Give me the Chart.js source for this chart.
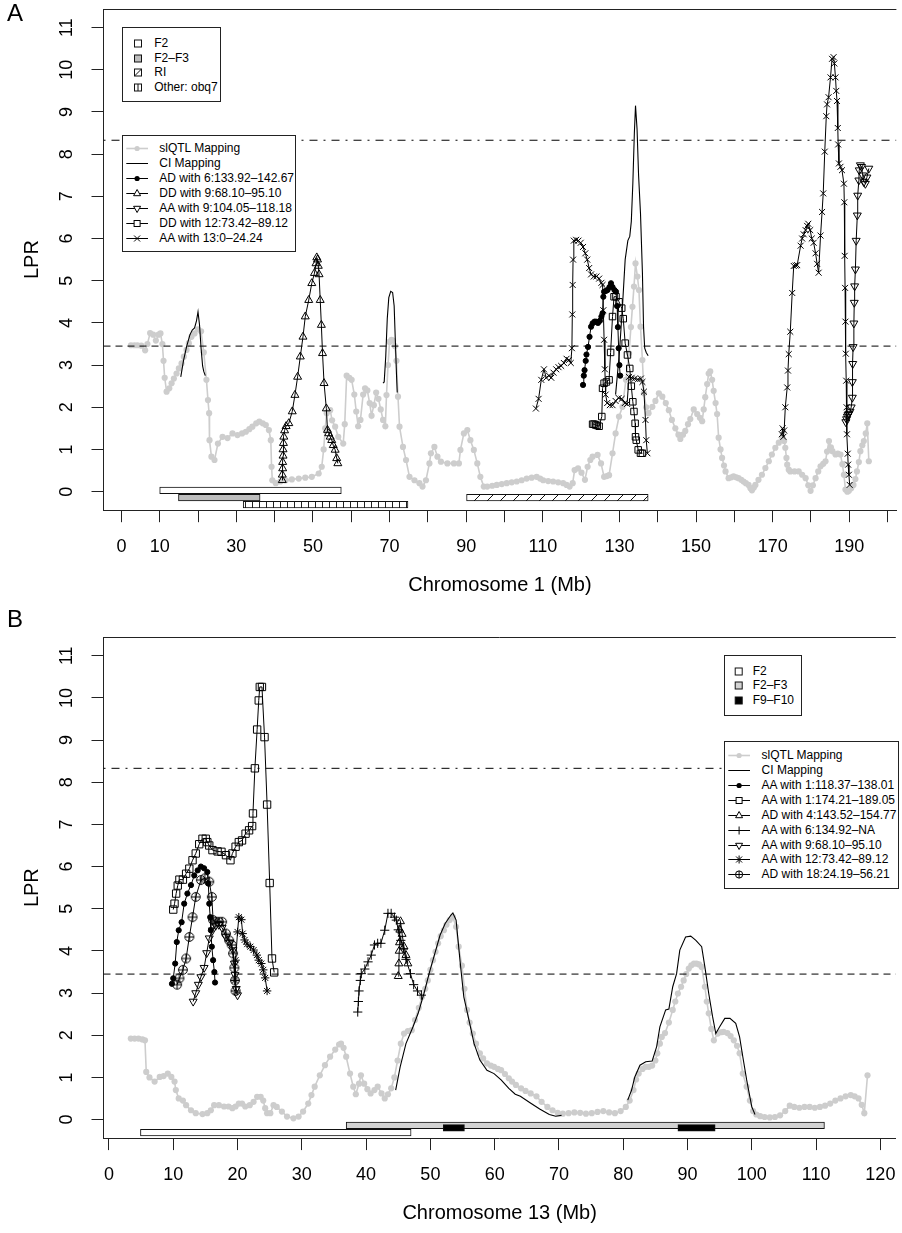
<!DOCTYPE html>
<html><head><meta charset="utf-8">
<script src="https://cdn.jsdelivr.net/npm/chart.js@4.4.1/dist/chart.umd.min.js"></script>
<style>
html,body{margin:0;padding:0;background:#fff;width:902px;height:1233px;overflow:hidden;font-family:"Liberation Sans",Arial,Helvetica,sans-serif;}
#wrap{position:relative;width:902px;height:1233px;}
canvas{position:absolute;left:0;}
.lg{position:absolute;background:#fff;border:1px solid #222;box-sizing:border-box;}
.row{position:absolute;left:0;right:0;height:15px;font-size:12px;line-height:15px;white-space:nowrap;color:#000;}
.row svg{position:absolute;left:0;top:0;}
.row span{position:absolute;top:0;}
.panel{position:absolute;font-size:24px;line-height:24px;color:#000;}
</style></head><body>
<div id="wrap">
<canvas id="cA" width="902" height="600" style="top:0"></canvas>
<canvas id="cB" width="902" height="633" style="top:600px"></canvas>
<div class="panel" style="left:7px;top:1px">A</div>
<div class="panel" style="left:7px;top:607px">B</div>
<div id="legends"></div>
</div>
<script>
// ---------------- DATA ----------------
const yTicks = [0,1,2,3,4,5,6,7,8,9,10,11];
const LPR_threshold_low = 3.45;
const LPR_threshold_high = 8.33;

// Panel A : Chromosome 1
const chr1_xTicks = [0,10,20,30,40,50,60,70,80,90,100,110,120,130,140,150,160,170,180,190,200];
const chr1_xLabels = [0,10,30,50,70,90,110,130,150,170,190];
const chr1_slQTL = [[2.5,3.47],[3.4,3.47],[4.2,3.47],[5.2,3.46],[6.2,3.35],[6.8,3.5],[7.5,3.76],[8.3,3.72],[9.0,3.58],[9.7,3.72],[10.2,3.75],[10.7,3.5],[11.0,3.1],[11.3,2.7],[11.8,2.37],[12.5,2.45],[13.1,2.57],[13.7,2.68],[14.4,2.8],[15.0,2.92],[15.7,3.04],[16.3,3.2],[17.0,3.36],[17.6,3.52],[18.3,3.67],[19.1,3.75],[20.0,3.85],[20.8,3.8],[21.5,3.3],[22.2,2.65],[22.6,2.17],[22.9,1.86],[23.0,1.22],[23.5,0.83],[24.3,0.75],[25.2,1.14],[26.4,1.3],[27.7,1.27],[29.0,1.38],[30.3,1.34],[31.5,1.38],[32.5,1.42],[33.4,1.48],[34.2,1.54],[35.2,1.62],[36.0,1.66],[36.9,1.62],[37.7,1.58],[38.5,1.46],[39.0,1.22],[39.2,0.59],[39.4,0.27],[40.3,0.2],[41.5,0.24],[42.9,0.27],[44.5,0.29],[46.3,0.31],[48.0,0.33],[49.7,0.35],[51.5,0.43],[52.3,0.59],[52.8,1.0],[53.2,1.5],[53.6,1.86],[54.5,1.93],[55.0,1.69],[55.8,1.54],[56.6,1.3],[57.9,1.14],[58.3,1.6],[58.8,2.75],[59.5,2.7],[60.1,2.65],[60.8,2.3],[61.3,1.9],[61.8,1.55],[62.4,1.7],[63.1,2.3],[63.6,2.45],[64.2,2.4],[64.8,2.1],[65.3,1.8],[65.9,2.05],[66.5,2.35],[67.1,2.2],[67.7,1.95],[68.3,1.7],[68.9,1.55],[69.2,2.29],[69.6,3.0],[70.0,3.55],[70.5,3.6],[70.9,3.58],[71.4,3.45],[71.8,3.1],[72.2,2.25],[72.6,1.54],[73.5,1.06],[74.3,0.75],[75.2,0.35],[76.5,0.27],[77.8,0.2],[78.6,0.12],[79.5,0.27],[80.4,0.67],[80.8,0.91],[81.7,1.06],[82.5,0.83],[83.4,0.71],[85.1,0.67],[86.8,0.67],[88.1,0.67],[88.5,0.99],[89.4,1.38],[90.3,1.46],[91.1,1.22],[92.0,0.99],[92.9,0.67],[93.7,0.35],[94.6,0.12],[95.5,0.12],[96.8,0.14],[98.0,0.16],[99.3,0.18],[100.6,0.2],[101.9,0.22],[103.2,0.24],[104.5,0.27],[105.8,0.31],[107.1,0.33],[108.4,0.35],[109.3,0.31],[110.1,0.27],[111.4,0.25],[112.7,0.24],[114.0,0.22],[115.3,0.2],[116.2,0.16],[117.0,0.12],[117.8,0.2],[118.3,0.51],[119.2,0.55],[120.1,0.45],[121.0,0.28],[121.7,0.59],[122.4,0.75],[123.0,0.83],[124.3,0.87],[125.2,0.67],[126.0,0.35],[126.7,0.37],[127.3,0.39],[128.2,0.91],[129.0,1.38],[129.9,1.78],[130.8,2.01],[131.7,2.65],[132.5,3.28],[133.0,3.9],[133.4,4.38],[133.8,4.86],[134.2,5.41],[134.7,5.1],[135.1,4.78],[135.5,3.91],[136.0,3.12],[136.4,2.33],[137.0,2.0],[137.6,1.86],[138.6,2.01],[139.4,2.15],[140.3,2.33],[141.2,2.25],[142.1,2.1],[142.9,1.93],[143.7,1.7],[144.6,1.5],[145.4,1.35],[145.9,1.25],[146.6,1.35],[147.2,1.44],[147.9,1.6],[148.5,1.72],[149.4,1.95],[150.3,1.84],[151.0,1.75],[151.6,1.67],[152.0,1.95],[152.4,2.24],[152.9,2.55],[153.3,2.8],[153.7,2.85],[154.2,2.65],[154.6,2.39],[155.1,2.1],[155.5,1.84],[155.9,1.28],[156.4,1.0],[156.8,0.8],[157.3,0.62],[157.7,0.48],[158.5,0.32],[159.2,0.34],[159.8,0.36],[160.5,0.34],[161.1,0.32],[161.8,0.28],[162.4,0.24],[163.0,0.2],[163.7,0.16],[164.2,0.08],[164.6,0.03],[165.1,0.1],[165.5,0.16],[166.3,0.28],[167.2,0.4],[168.1,0.56],[169.0,0.72],[169.8,0.88],[170.7,1.04],[171.6,1.16],[172.5,1.28],[173.0,1.2],[173.3,1.04],[173.6,0.8],[173.8,0.64],[174.2,0.52],[174.6,0.48],[175.7,0.48],[176.8,0.48],[177.7,0.4],[178.6,0.32],[179.3,0.15],[179.9,0.02],[180.5,0.15],[181.2,0.32],[181.9,0.48],[182.5,0.6],[183.2,0.66],[183.8,0.72],[184.2,0.95],[184.7,1.2],[185.2,1.05],[185.6,0.96],[186.4,0.88],[187.0,0.9],[187.7,0.88],[188.2,0.65],[188.6,0.4],[189.0,0.05],[189.5,0.0],[189.9,0.02],[190.5,0.08],[191.1,0.16],[191.6,0.3],[192.0,0.48],[192.5,0.7],[192.9,0.96],[193.4,1.1],[193.8,1.2],[194.3,1.38],[194.7,1.62],[195.1,0.72]];
const chr1_CI_a = [[15.5,2.72],[16.2,3.1],[17.0,3.43],[17.9,3.72],[18.5,3.83],[19.1,3.88],[19.6,4.05],[20.0,4.26],[20.4,3.95],[20.8,3.4],[21.2,2.98],[21.5,2.85],[21.9,2.75]];
const chr1_CI_b = [[68.3,2.57],[68.6,2.6],[69.0,3.2],[69.4,4.1],[69.8,4.6],[70.3,4.75],[70.8,4.72],[71.2,4.4],[71.5,3.6],[71.8,2.8],[72.0,2.35]];
const chr1_CI_c = [[129.0,2.3],[130.0,3.3],[130.8,4.4],[131.5,5.5],[132.2,5.95],[132.7,6.05],[133.1,6.4],[133.5,7.3],[133.9,8.5],[134.2,9.15],[134.6,8.6],[135.0,7.5],[135.5,6.6],[136.0,5.2],[136.3,3.9],[136.6,3.4],[137.0,3.3],[137.5,3.22]];
const chr1_AD_6 = [[120.5,2.53],[120.7,2.75],[120.9,2.88],[121.2,3.1],[121.4,3.25],[121.8,3.43],[122.2,3.67],[122.6,3.91],[123.0,3.99],[123.5,4.03],[123.9,4.03],[124.4,4.0],[124.9,4.05],[125.3,4.15],[125.6,4.23],[125.8,4.62],[126.0,4.74],[126.5,4.76],[126.9,4.78],[127.4,4.85],[127.8,4.94],[128.2,4.85],[128.7,4.78],[129.1,4.74],[129.4,4.4],[129.6,3.9],[129.8,3.4],[130.0,3.0],[130.2,2.75]];
const chr1_DD_9 = [[42.0,0.27],[42.0,0.4],[42.1,0.55],[42.1,0.7],[42.2,0.85],[42.2,1.0],[42.3,1.15],[42.4,1.3],[42.6,1.45],[43.0,1.55],[43.7,1.62],[44.6,1.9],[45.3,2.29],[46.0,2.72],[46.7,3.2],[47.4,3.67],[48.0,4.15],[48.9,4.54],[49.7,4.94],[50.4,5.18],[50.8,5.41],[51.0,5.55],[51.2,5.5],[51.4,5.35],[51.6,5.15],[51.9,4.54],[52.2,3.95],[52.5,3.28],[52.9,2.57],[53.5,1.97],[53.8,1.46],[54.1,1.38],[54.5,1.3],[54.9,1.22],[55.3,1.1],[55.8,0.99],[56.2,0.79],[56.5,0.67]];
const chr1_AA_9 = [[189.1,1.65],[189.3,1.72],[189.5,1.78],[189.7,1.82],[189.9,1.85],[190.2,1.9],[190.5,2.0],[190.8,2.23],[190.8,2.6],[190.9,3.03],[191.0,3.43],[191.2,3.99],[191.3,4.48],[191.4,4.87],[191.6,5.27],[191.8,5.95],[192.1,6.55],[192.2,7.02],[192.5,7.38],[192.6,7.62],[192.9,7.74],[193.2,7.7],[193.5,7.5],[193.8,7.34],[194.2,7.3],[194.6,7.45],[195.1,7.66]];
const chr1_DD_12 = [[123.0,1.6],[123.4,1.6],[123.8,1.58],[124.2,1.57],[124.7,1.55],[125.4,1.78],[125.6,2.45],[126.0,2.57],[126.6,2.6],[127.3,2.65],[127.7,3.3],[128.2,4.15],[128.6,4.62],[129.1,4.62],[129.9,4.5],[130.6,4.35],[131.0,4.1],[131.5,3.52],[132.1,3.24],[132.7,2.92],[133.1,2.5],[133.5,2.13],[133.8,1.9],[134.1,1.62],[134.2,1.3],[134.4,1.22],[134.9,0.99],[135.5,0.91],[136.0,0.91]];
const chr1_AA_13_a = [[108.2,1.97],[108.9,2.2],[109.6,2.65],[110.3,2.9],[110.9,2.7],[111.6,2.75],[112.2,2.7],[112.8,2.82],[113.5,2.9],[114.1,2.95],[114.8,2.98],[115.5,3.05],[116.2,3.15],[116.8,3.12],[117.3,3.05],[117.6,3.4],[117.7,4.2],[117.8,4.9],[117.9,5.5],[118.1,5.95],[118.7,5.97],[119.3,5.95],[119.9,5.9],[120.5,5.8],[121.1,5.65],[121.6,5.5],[122.1,5.3],[122.6,5.15],[123.3,5.1],[124.0,5.1],[124.7,5.05],[125.3,4.95],[125.6,4.9],[125.8,4.3],[126.0,3.6],[126.2,2.9],[126.4,2.3],[126.8,2.1],[127.5,2.05],[128.2,2.05],[129.0,2.15],[129.8,2.22],[130.6,2.2],[131.4,2.1],[132.0,2.08],[132.5,2.72],[133.2,2.7],[134.0,2.68],[134.8,2.66],[135.6,2.68],[136.0,2.6],[136.4,2.37],[136.8,1.7],[137.0,1.22],[137.3,0.91]];
const chr1_AA_13_b = [[172.4,1.36],[172.6,1.5],[172.8,1.3],[173.0,1.45],[173.3,2.0],[173.8,2.47],[174.0,2.87],[174.2,3.26],[174.6,3.79],[175.1,4.71],[175.5,5.35],[176.0,5.36],[176.4,5.37],[177.3,5.83],[177.7,6.0],[178.1,6.1],[178.6,6.2],[179.0,6.3],[179.3,6.35],[179.8,6.2],[180.2,6.0],[180.7,5.9],[181.2,5.65],[181.6,5.4],[182.0,5.19],[182.5,6.07],[182.9,6.63],[183.2,7.07],[183.6,8.06],[184.0,8.9],[184.2,9.18],[184.6,9.35],[185.1,9.82],[185.5,10.26],[185.9,10.3],[186.1,10.15],[186.4,9.82],[186.6,9.5],[186.8,9.26],[187.0,8.62],[187.1,8.23],[187.3,7.78],[187.7,7.7],[188.1,7.62],[188.6,7.3],[188.7,6.86],[188.8,5.59],[188.9,4.83],[189.0,4.03],[189.1,3.27],[189.2,2.63],[189.3,2.0],[189.4,1.36],[189.6,0.9],[189.7,0.64],[189.9,0.4],[190.1,0.16]];
// intervals (Mb) of the crosses used
const chr1_F2 = [10.0, 57.4];
const chr1_F2F3 = [14.9, 36.2];
const chr1_RI = [90.1, 137.5];
const chr1_obq7 = [31.8, 74.8];

// Panel B : Chromosome 13
const chr13_xTicks = [0,10,20,30,40,50,60,70,80,90,100,110,120];
const chr13_xLabels = [0,10,20,30,40,50,60,70,80,90,100,110,120];
const chr13_slQTL = [[3.4,1.92],[4.0,1.92],[4.6,1.92],[5.2,1.9],[5.6,1.88],[5.8,1.13],[6.3,1.0],[7.1,0.9],[7.9,1.01],[8.5,1.03],[9.15,1.09],[9.7,1.01],[10.2,0.9],[10.4,0.7],[10.85,0.5],[11.5,0.45],[12.0,0.34],[12.76,0.22],[13.5,0.15],[14.55,0.13],[15.3,0.15],[15.85,0.22],[16.36,0.34],[17.1,0.34],[17.9,0.31],[18.6,0.31],[19.2,0.27],[19.7,0.31],[20.2,0.38],[20.7,0.38],[21.2,0.31],[21.9,0.34],[22.5,0.42],[23.05,0.54],[23.6,0.54],[24.0,0.45],[24.3,0.27],[24.6,0.15],[25.1,0.15],[25.6,0.34],[26.1,0.3],[26.9,0.19],[27.7,0.07],[28.7,0.03],[29.5,0.07],[30.2,0.19],[31.0,0.38],[31.5,0.58],[32.0,0.78],[32.8,1.05],[33.6,1.29],[34.4,1.49],[35.2,1.66],[35.8,1.78],[36.1,1.8],[36.5,1.7],[36.9,1.49],[37.5,1.09],[38.0,0.78],[38.4,0.6],[38.9,0.85],[39.2,1.05],[39.7,0.85],[40.2,0.72],[40.7,0.62],[41.3,0.7],[41.8,0.78],[42.4,0.62],[42.9,0.5],[43.4,0.6],[43.9,0.74],[44.4,1.0],[44.9,1.4],[45.4,1.8],[45.9,2.04],[46.5,2.1],[47.1,2.12],[47.6,2.36],[48.2,2.65],[48.7,2.91],[49.2,3.1],[49.6,3.3],[50.0,3.55],[50.4,3.78],[50.8,3.98],[51.2,4.18],[51.6,4.35],[52.1,4.49],[52.5,4.62],[53.0,4.73],[53.5,4.8],[54.0,4.57],[54.4,4.1],[54.9,3.65],[55.3,3.1],[55.7,2.6],[56.1,2.3],[56.6,2.04],[57.1,1.8],[57.7,1.57],[58.2,1.45],[58.8,1.33],[59.4,1.28],[59.9,1.25],[60.5,1.2],[61.0,1.17],[61.6,1.08],[62.2,0.98],[62.7,0.9],[63.3,0.82],[64.1,0.74],[64.8,0.68],[65.6,0.62],[66.5,0.55],[67.3,0.42],[68.2,0.3],[69.0,0.22],[69.8,0.16],[70.6,0.14],[71.5,0.15],[72.4,0.17],[73.3,0.16],[74.2,0.14],[75.1,0.15],[76.0,0.18],[76.9,0.2],[77.8,0.17],[78.7,0.15],[79.6,0.2],[80.4,0.3],[81.0,0.45],[81.6,0.7],[82.0,0.95],[82.4,1.09],[83.0,1.2],[83.5,1.25],[84.0,1.25],[84.5,1.28],[85.0,1.4],[85.3,1.57],[85.7,1.8],[86.0,1.96],[86.5,2.05],[87.1,2.3],[87.7,2.6],[88.1,2.8],[88.5,2.99],[89.0,3.15],[89.4,3.3],[89.8,3.45],[90.2,3.58],[90.6,3.66],[91.0,3.7],[91.4,3.7],[91.8,3.68],[92.2,3.62],[92.7,3.15],[93.0,2.8],[93.3,2.52],[93.7,2.15],[94.1,1.88],[94.7,2.04],[95.2,2.07],[95.6,2.08],[96.2,2.05],[96.7,1.98],[97.2,1.88],[97.7,1.75],[98.1,1.57],[98.6,1.09],[99.2,0.78],[99.7,0.45],[100.2,0.2],[100.7,0.12],[101.3,0.08],[102.0,0.06],[102.8,0.05],[103.6,0.06],[104.4,0.1],[105.2,0.2],[105.9,0.33],[106.6,0.3],[107.4,0.28],[108.2,0.3],[109.0,0.3],[109.8,0.28],[110.6,0.3],[111.4,0.33],[112.2,0.38],[113.0,0.45],[113.8,0.5],[114.6,0.55],[115.4,0.58],[116.0,0.55],[116.6,0.5],[117.1,0.35],[117.5,0.15],[118.0,1.05]];
const chr13_CI_a = [[44.6,0.7],[45.3,1.25],[46.2,1.8],[47.3,2.2],[48.1,2.52],[49.0,2.99],[49.8,3.46],[50.7,3.94],[51.5,4.37],[52.3,4.65],[53.2,4.85],[53.5,4.9],[54.0,4.73],[54.6,3.78],[55.2,2.91],[56.0,2.36],[56.8,1.8],[57.7,1.41],[58.8,1.17],[59.9,1.09],[61.0,0.94],[62.2,0.74],[63.2,0.6],[64.0,0.55],[65.5,0.4],[67.0,0.25],[68.5,0.12],[69.5,0.08],[70.4,0.1]];
const chr13_CI_b = [[80.7,0.46],[81.3,0.7],[81.8,1.01],[82.6,1.29],[83.5,1.37],[84.5,1.39],[85.2,1.73],[85.7,2.2],[86.6,2.6],[87.1,2.62],[87.7,3.15],[88.3,3.46],[88.8,4.02],[89.7,4.33],[90.5,4.35],[91.3,4.25],[92.2,4.1],[92.7,3.62],[93.3,2.99],[93.9,2.44],[94.4,2.04],[95.0,2.2],[95.8,2.4],[96.6,2.4],[97.5,2.28],[98.1,1.96],[98.6,1.49],[99.2,0.94],[99.5,0.7],[100.0,0.3],[100.5,0.12]];
const chr13_AA_1a = [[9.8,3.22],[10.0,3.35],[10.3,3.7],[10.55,4.21],[10.85,4.49],[11.3,4.68],[11.7,5.12],[12.2,5.36],[12.76,5.56],[13.27,5.79],[13.8,5.91],[14.3,6.0],[14.8,5.96],[15.3,5.87],[15.45,5.6],[15.6,5.12],[15.75,4.8],[15.85,4.49],[16.0,4.1],[16.2,3.78],[16.4,3.5],[16.5,3.25]];
const chr13_AA_1b = [[10.0,4.98],[10.2,5.12],[10.45,5.36],[10.7,5.55],[10.96,5.69],[11.5,5.69],[12.0,5.83],[12.5,5.95],[13.0,6.15],[13.5,6.31],[14.04,6.53],[14.55,6.66],[15.06,6.66],[15.3,6.58],[15.6,6.5],[16.1,6.39],[16.9,6.36],[17.5,6.35],[18.2,6.27],[18.9,6.15],[19.2,6.31],[19.7,6.47],[20.2,6.58],[20.7,6.62],[21.25,6.78],[21.8,6.86],[22.27,6.96],[22.4,7.26],[22.7,8.33],[23.05,9.25],[23.3,9.94],[23.46,10.26],[23.8,10.26],[24.2,9.07],[24.6,7.47],[25.0,5.61],[25.36,3.82],[25.7,3.49]];
const chr13_AD_4 = [[45.0,3.4],[45.1,3.7],[45.15,4.0],[45.2,4.2],[45.25,4.5],[45.35,4.7],[45.6,4.4],[45.9,4.1],[46.2,3.9],[46.5,3.7]];
const chr13_AA_6 = [[38.7,2.55],[38.8,2.8],[38.9,3.05],[39.1,3.3],[39.25,3.46],[39.8,3.57],[40.3,3.74],[40.8,3.9],[41.3,4.14],[41.8,4.18],[42.3,4.18],[42.9,4.49],[43.4,4.89],[43.9,4.89],[44.4,4.8],[44.7,4.73],[45.0,4.5],[45.4,4.25],[45.8,4.05],[46.2,3.8],[46.9,3.46],[47.4,3.2],[48.0,3.05],[48.6,2.95]];
const chr13_AA_9 = [[13.1,2.8],[13.5,3.0],[13.9,3.2],[14.3,3.38],[14.8,3.6],[15.2,3.95],[15.6,4.3],[16.1,4.49],[16.6,4.6],[17.1,4.62],[17.6,4.55],[18.2,4.33],[18.8,4.2],[19.3,4.02],[19.5,3.7],[19.6,3.43],[19.8,3.1],[20.0,2.95]];
const chr13_AA_12 = [[19.6,3.3],[19.7,3.78],[20.0,4.45],[20.2,4.8],[20.6,4.74],[20.8,4.41],[21.1,4.26],[21.5,4.16],[22.0,4.1],[22.5,4.02],[23.0,3.9],[23.3,3.78],[23.7,3.7],[24.0,3.55],[24.3,3.36],[24.6,3.05]];
const chr13_AD_18 = [[10.6,3.2],[10.96,3.35],[11.5,3.55],[12.0,3.82],[12.5,4.33],[13.0,4.8],[13.5,5.28],[14.3,5.68],[14.9,5.72],[15.6,5.64],[16.0,5.28],[16.2,4.73],[16.6,4.69],[17.1,4.69],[17.6,4.69],[18.2,4.41],[18.7,4.25],[19.1,4.14],[19.3,3.94],[19.5,3.6],[19.6,3.3],[19.7,3.05]];
const chr13_F2 = [4.9, 47.0];
const chr13_F2F3 = [36.9, 111.3];
const chr13_F9F10 = [[52.0, 55.3], [88.5, 94.3]];

// ---------------- STYLE / LAYOUT ----------------
const FONT = '"Liberation Sans", Arial, Helvetica, sans-serif';
const GRAY = '#cdcdcd';
const AXIS = '#222';
const pts = a => a.map(([x, y]) => ({x, y}));

function makeCanvas(w, h, draw) { const c = document.createElement('canvas'); c.width = w; c.height = h; draw(c.getContext('2d')); return c; }
const diagTile = makeCanvas(13, 13, g => { g.fillStyle = '#fff'; g.fillRect(0,0,13,13); g.strokeStyle = '#111'; g.lineWidth = 1; g.beginPath(); g.moveTo(-1,14); g.lineTo(14,-1); g.stroke(); });
const vertTile = makeCanvas(7, 7, g => { g.fillStyle = '#fff'; g.fillRect(0,0,7,7); g.fillStyle = '#222'; g.fillRect(0,0,1,7); });
const tmpCtx = document.createElement('canvas').getContext('2d');
const diagPattern = tmpCtx.createPattern(diagTile, 'repeat');
const vertPattern = tmpCtx.createPattern(vertTile, 'repeat');
const circlePlus = makeCanvas(12, 12, g => { g.strokeStyle = '#000'; g.lineWidth = 1; g.beginPath(); g.arc(6,6,4.4,0,Math.PI*2); g.moveTo(1.6,6); g.lineTo(10.4,6); g.moveTo(6,1.6); g.lineTo(6,10.4); g.stroke(); });

function series(label, data, marker, extra) {
  return Object.assign({
    label, data: pts(data), showLine: true, tension: 0,
    borderColor: '#000', borderWidth: 1,
    pointBorderColor: '#000', pointBorderWidth: 1,
    pointBackgroundColor: 'rgba(0,0,0,0)', order: 2
  }, marker, extra || {});
}
const M = {
  dot: {pointStyle: 'circle', pointRadius: 2.6, pointBackgroundColor: '#000'},
  tri: {pointStyle: 'triangle', pointRadius: 4.6},
  triDown: {pointStyle: 'triangle', pointRadius: 4.6, pointRotation: 180},
  sq: {pointStyle: 'rect', pointRadius: 4.6},
  sqB: {pointStyle: 'rect', pointRadius: 5.2},
  x: {pointStyle: 'crossRot', pointRadius: 4.2},
  plus: {pointStyle: 'cross', pointRadius: 4.6},
  star: {pointStyle: 'star', pointRadius: 4.2},
  cplus: {pointStyle: circlePlus, pointRadius: 5},
  none: {pointRadius: 0}
};
function grayDS(data) {
  return {label: 'slQTL Mapping', data: pts(data), showLine: true, tension: 0, borderColor: GRAY, borderWidth: 1.6,
    pointStyle: 'circle', pointRadius: 3.1, pointBackgroundColor: GRAY, pointBorderColor: GRAY, pointBorderWidth: 0, order: 20};
}
function ciDS(data) { return series('CI Mapping', data, M.none, {order: 10, borderWidth: 1.1}); }
function hline(y, xr, dash) {
  return {label: 'threshold', data: [{x: xr[0], y}, {x: xr[1], y}], showLine: true, borderColor: '#000', borderWidth: 1,
    borderDash: dash, pointRadius: 0, order: 12};
}
function barsDS(intervals, levels, fills, thick) {
  return {type: 'bar', label: 'crosses', indexAxis: 'y', xAxisID: 'x', yAxisID: 'y',
    data: intervals.map((iv, i) => ({x: iv, y: levels[i]})),
    backgroundColor: fills, borderColor: '#111', borderWidth: 1, borderSkipped: false,
    barThickness: thick, grouped: true, order: 30};
}
const framePlugin = {id: 'frame', afterDraw(chart) {
  const {ctx, chartArea: a} = chart; ctx.save(); ctx.strokeStyle = AXIS; ctx.lineWidth = 1;
  ctx.beginPath(); ctx.moveTo(a.left, Math.round(a.top) + 0.5); ctx.lineTo(a.right, Math.round(a.top) + 0.5); ctx.stroke(); ctx.restore();
}};

function makeChart(id, cfg) {
  return new Chart(document.getElementById(id), {
    type: 'scatter',
    data: {datasets: cfg.datasets},
    options: {
      responsive: false, animation: false, devicePixelRatio: 1, events: [],
      layout: {padding: {top: cfg.padTop, left: 0, right: 0, bottom: 0}},
      plugins: {legend: {display: false}, tooltip: {enabled: false}},
      scales: {
        x: {type: 'linear', min: cfg.xMin, max: cfg.xMax, position: 'bottom', stacked: false, offset: false, beginAtZero: false,
          afterBuildTicks: s => { s.ticks = cfg.xTicks.map(v => ({value: v})); },
          afterFit: s => { s.height = cfg.xAxisH; s.paddingLeft = 0; s.paddingRight = 0; },
          ticks: {autoSkip: false, maxRotation: 0, minRotation: 0, padding: 14, color: '#000',
            font: {family: FONT, size: 18}, callback: v => cfg.xLabels.includes(v) ? String(v) : ''},
          grid: {offset: false, drawOnChartArea: false, drawTicks: true, tickLength: 12, color: AXIS, lineWidth: 1},
          border: {display: true, color: AXIS, width: 1},
          title: {display: true, text: cfg.xTitle, color: '#000', font: {family: FONT, size: 20}, padding: {top: 0, bottom: cfg.xTitlePad}}
        },
        y: {type: 'linear', min: -0.44, max: 11.44, position: 'left', offset: false, stacked: false,
          afterBuildTicks: s => { s.ticks = yTicks.map(v => ({value: v})); },
          afterFit: s => { s.width = 103.5; s.paddingTop = 0; s.paddingBottom = 0; },
          ticks: {autoSkip: false, minRotation: 90, maxRotation: 90, crossAlign: 'center', padding: 14, color: '#000',
            font: {family: FONT, size: 18}},
          grid: {offset: false, drawOnChartArea: false, drawTicks: true, tickLength: 12, color: AXIS, lineWidth: 1},
          border: {display: true, color: AXIS, width: 1},
          title: {display: true, text: 'LPR', color: '#000', font: {family: FONT, size: 20}, padding: {top: 20, bottom: 0}}
        }
      }
    },
    plugins: [framePlugin]
  });
}

// Panel A
const xrA = [-4.67, 202.3];
makeChart('cA', {
  padTop: 9.05, xMin: xrA[0], xMax: xrA[1], xTicks: chr1_xTicks, xLabels: chr1_xLabels, xAxisH: 89.8,
  xTitle: 'Chromosome 1 (Mb)', xTitlePad: 3,
  datasets: [
    series('AD with 6:133.92–142.67', chr1_AD_6, M.dot, {order: 1}),
    series('DD with 9:68.10–95.10', chr1_DD_9, M.tri),
    series('AA with 9:104.05–118.18', chr1_AA_9, M.triDown),
    series('DD with 12:73.42–89.12', chr1_DD_12, M.sq),
    series('AA with 13:0–24.24', chr1_AA_13_a, M.x),
    series('AA with 13:0–24.24', chr1_AA_13_b, M.x),
    ciDS(chr1_CI_a), ciDS(chr1_CI_b), ciDS(chr1_CI_c),
    hline(LPR_threshold_low, xrA, [7, 5]),
    hline(LPR_threshold_high, xrA, [2, 6, 8, 6]),
    grayDS(chr1_slQTL),
    barsDS([chr1_F2, chr1_F2F3, chr1_obq7, chr1_RI], [0.03, -0.14, -0.31, -0.14],
      ['#ffffff', '#bdbdbd', vertPattern, diagPattern], 6.6)
  ]
});

// Panel B
const xrB = [-0.85, 122.4];
makeChart('cB', {
  padTop: 37.2, xMin: xrB[0], xMax: xrB[1], xTicks: chr13_xTicks, xLabels: chr13_xLabels, xAxisH: 94.9,
  xTitle: 'Chromosome 13 (Mb)', xTitlePad: 8,
  datasets: [
    series('AA with 1:118.37–138.01', chr13_AA_1a, M.dot, {order: 1}),
    series('AA with 1:174.21–189.05', chr13_AA_1b, M.sqB),
    series('AD with 4:143.52–154.77', chr13_AD_4, M.tri),
    series('AA with 6:134.92–NA', chr13_AA_6, M.plus),
    series('AA with 9:68.10–95.10', chr13_AA_9, M.triDown),
    series('AA with 12:73.42–89.12', chr13_AA_12, M.star),
    series('AD with 18:24.19–56.21', chr13_AD_18, M.cplus),
    ciDS(chr13_CI_a), ciDS(chr13_CI_b),
    hline(LPR_threshold_low, xrB, [7, 5]),
    hline(LPR_threshold_high, xrB, [2, 6, 8, 6]),
    grayDS(chr13_slQTL),
    barsDS([chr13_F2, chr13_F2F3, chr13_F9F10[0], chr13_F9F10[1]], [-0.31, -0.14, -0.2, -0.2],
      ['#ffffff', '#d3d3d3', '#000000', '#000000'], 6.6)
  ]
});

// ---------------- LEGENDS (HTML text) ----------------
function markerSVG(kind, cx, cy) {
  switch (kind) {
    case 'dot': return `<circle cx="${cx}" cy="${cy}" r="2.6" fill="#000"/>`;
    case 'gdot': return `<circle cx="${cx}" cy="${cy}" r="2.6" fill="${GRAY}"/>`;
    case 'tri': return `<polygon points="${cx},${cy-4} ${cx-3.5},${cy+2.2} ${cx+3.5},${cy+2.2}" fill="#fff" stroke="#000"/>`;
    case 'triDown': return `<polygon points="${cx},${cy+4} ${cx-3.5},${cy-2.2} ${cx+3.5},${cy-2.2}" fill="#fff" stroke="#000"/>`;
    case 'sq': return `<rect x="${cx-3}" y="${cy-3}" width="6" height="6" fill="#fff" stroke="#000"/>`;
    case 'x': return `<path d="M${cx-3},${cy-3}L${cx+3},${cy+3}M${cx-3},${cy+3}L${cx+3},${cy-3}" stroke="#000"/>`;
    case 'plus': return `<path d="M${cx-4},${cy}L${cx+4},${cy}M${cx},${cy-4}L${cx},${cy+4}" stroke="#000"/>`;
    case 'star': return `<path d="M${cx-4},${cy}L${cx+4},${cy}M${cx},${cy-4}L${cx},${cy+4}M${cx-3},${cy-3}L${cx+3},${cy+3}M${cx-3},${cy+3}L${cx+3},${cy-3}" stroke="#000"/>`;
    case 'cplus': return `<circle cx="${cx}" cy="${cy}" r="3.6" fill="#fff" stroke="#000"/><path d="M${cx-3.6},${cy}L${cx+3.6},${cy}M${cx},${cy-3.6}L${cx},${cy+3.6}" stroke="#000"/>`;
    default: return '';
  }
}
function boxSVG(kind, cx, cy) {
  const x = cx - 3.5, y = cy - 3.5;
  let s = `<rect x="${x}" y="${y}" width="7" height="7" fill="${kind.fill}" stroke="#111"/>`;
  if (kind.pat === 'diag') s += `<path d="M${x},${y+7}L${x+7},${y}" stroke="#111"/>`;
  if (kind.pat === 'vert') s += `<path d="M${cx},${y}L${cx},${y+7}" stroke="#111"/>`;
  return s;
}
function buildLegend(g) {
  let html = `<div class="lg" style="left:${g.left}px;top:${g.top}px;width:${g.width}px;height:${g.height}px">`;
  g.items.forEach((it, i) => {
    const cy = g.first + i * g.step;
    let svg;
    if (it.box) svg = boxSVG(it.box, g.symX, 7.5);
    else {
      const col = it.gray ? GRAY : '#000';
      svg = `<path d="M${g.lineX[0]},7.5L${g.lineX[1]},7.5" stroke="${col}" stroke-width="${it.gray ? 1.6 : 1}"/>` + markerSVG(it.m, g.symX, 7.5);
    }
    html += `<div class="row" style="top:${cy - 7.5 - 1}px"><svg width="${g.textX}" height="15">${svg}</svg><span style="left:${g.textX}px">${it.t}</span></div>`;
  });
  html += '</div>';
  return html;
}
const legends = [
  {left: 121.7, top: 27.3, width: 99, height: 75, first: 16, step: 14.8, symX: 15, textX: 31.6, items: [
    {t: 'F2', box: {fill: '#fff'}}, {t: 'F2–F3', box: {fill: '#bdbdbd'}},
    {t: 'RI', box: {fill: '#fff', pat: 'diag'}}, {t: 'Other: obq7', box: {fill: '#fff', pat: 'vert'}}]},
  {left: 121.7, top: 134.6, width: 174.3, height: 117.4, first: 13.7, step: 15, symX: 14.1, lineX: [3.3, 25], textX: 36.6, items: [
    {t: 'slQTL Mapping', m: 'gdot', gray: true}, {t: 'CI Mapping', m: 'none'},
    {t: 'AD with 6:133.92–142.67', m: 'dot'}, {t: 'DD with 9:68.10–95.10', m: 'tri'},
    {t: 'AA with 9:104.05–118.18', m: 'triDown'}, {t: 'DD with 12:73.42–89.12', m: 'sq'},
    {t: 'AA with 13:0–24.24', m: 'x'}]},
  {left: 724, top: 655, width: 77.7, height: 61, first: 16, step: 14.85, symX: 13.7, textX: 27.7, items: [
    {t: 'F2', box: {fill: '#fff'}}, {t: 'F2–F3', box: {fill: '#d3d3d3'}}, {t: 'F9–F10', box: {fill: '#000'}}]},
  {left: 724, top: 740.7, width: 175, height: 148, first: 15.3, step: 14.85, symX: 14.1, lineX: [3.3, 25], textX: 36.6, items: [
    {t: 'slQTL Mapping', m: 'gdot', gray: true}, {t: 'CI Mapping', m: 'none'},
    {t: 'AA with 1:118.37–138.01', m: 'dot'}, {t: 'AA with 1:174.21–189.05', m: 'sq'},
    {t: 'AD with 4:143.52–154.77', m: 'tri'}, {t: 'AA with 6:134.92–NA', m: 'plus'},
    {t: 'AA with 9:68.10–95.10', m: 'triDown'}, {t: 'AA with 12:73.42–89.12', m: 'star'},
    {t: 'AD with 18:24.19–56.21', m: 'cplus'}]}
];
document.getElementById('legends').innerHTML = legends.map(buildLegend).join('');
</script>
</body></html>
